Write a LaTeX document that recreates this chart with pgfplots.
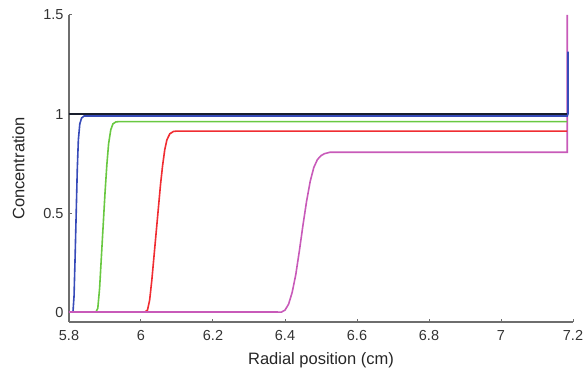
\documentclass[border=0pt]{standalone}
\usepackage{fontspec}
\setmainfont{Liberation Sans}
\usepackage{pgfplots}
\pgfplotsset{compat=1.18}
\definecolor{cblue}{RGB}{55,75,185}
\definecolor{cgreen}{RGB}{105,200,65}
\definecolor{cred}{RGB}{240,45,50}
\definecolor{cmag}{RGB}{200,90,185}
\definecolor{cblack}{RGB}{25,30,45}
\definecolor{axgray}{RGB}{110,110,110}
\begin{document}
\begin{tikzpicture}
\begin{axis}[
  name=ax,
  scale only axis,
  width=504pt, height=307pt,
  xmin=5.8, xmax=7.2, ymin=-0.05, ymax=1.5,
  axis x line=bottom, axis y line=left,
  axis line style={-, axgray, line width=1.4pt},
  tick style={axgray, line width=1pt},
  major tick length=3pt,
  tick align=inside,
  xtick={5.8,6,6.2,6.4,6.6,6.8,7,7.2},
  xticklabels={5.8,6,6.2,6.4,6.6,6.8,7,7.2},
  ytick={0,0.5,1,1.5},
  yticklabels={0,0.5,1,1.5},
  tick label style={font=\fontsize{14.5}{16}\selectfont, text=black!80},
  xticklabel style={yshift=-5pt},
  yticklabel style={xshift=-2pt},
  xlabel={Radial position (cm)},
  ylabel={Concentration},
  label style={font=\fontsize{16.5}{18}\selectfont, text=black!85},
  xlabel style={yshift=-5pt},
  ylabel style={yshift=12pt},
  clip=false,
]
\addplot[cmag, line width=1.6pt] coordinates {
(5.800,0) (6.390,0) (6.400,0.01) (6.410,0.04) (6.420,0.10) (6.430,0.19) (6.440,0.31) (6.450,0.44) (6.460,0.56) (6.470,0.66) (6.480,0.73) (6.490,0.77) (6.500,0.79) (6.510,0.80) (6.525,0.807) (7.184,0.807) (7.184,1.5)};
\addplot[cred, line width=1.6pt] coordinates {
(6.010,0) (6.018,0.01) (6.024,0.06) (6.030,0.16) (6.036,0.28) (6.042,0.40) (6.048,0.52) (6.054,0.64) (6.060,0.74) (6.066,0.82) (6.072,0.87) (6.080,0.90) (6.090,0.912) (6.100,0.914) (7.184,0.914)};
\addplot[cgreen, line width=1.6pt] coordinates {
(5.875,0) (5.880,0.02) (5.885,0.12) (5.890,0.28) (5.895,0.44) (5.900,0.60) (5.905,0.74) (5.910,0.85) (5.916,0.92) (5.922,0.95) (5.930,0.960) (5.940,0.962) (7.184,0.962)};
\addplot[cblack, line width=1.8pt] coordinates {(5.8,1) (7.184,1)};
\addplot[cblue, line width=1.6pt] coordinates {
(5.811,0) (5.814,0.08) (5.817,0.28) (5.820,0.50) (5.823,0.72) (5.826,0.87) (5.830,0.95) (5.835,0.98) (5.842,0.99) (7.184,0.99) (7.186,1.0) (7.186,1.315)};
\addplot[cmag, line width=1.6pt] coordinates {(5.8,0) (6.38,0)};
\end{axis}
\pgfresetboundingbox
\path ([shift={(-69pt,-52pt)}]ax.south west) rectangle ([shift={(11pt,15pt)}]ax.north east);
\end{tikzpicture}
\end{document}
